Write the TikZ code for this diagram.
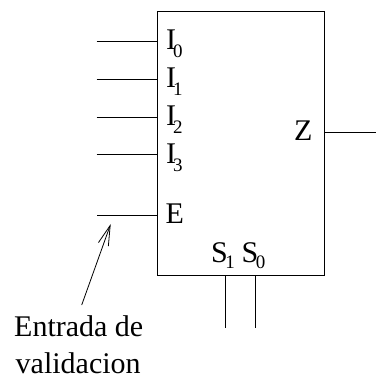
\documentclass[tikz,border=0pt]{standalone}
\usepackage{fontspec}
\setmainfont{Liberation Serif}
\usetikzlibrary{arrows.meta}
\newcommand{\subd}[2]{\raisebox{-#2}{\fontsize{19}{19}\selectfont #1}}
\begin{document}
\begin{tikzpicture}[x=1pt,y=-1pt,
 wire/.style={line width=0.8pt,black},
 lab/.style={font=\fontsize{30}{34}\selectfont,inner sep=0pt,anchor=base west,text=black}]
\useasboundingbox (0,0) rectangle (376,376);
\node[draw,line width=0.8pt,minimum width=166.7pt,minimum height=264pt,anchor=north west,inner sep=0pt] (box) at (157,11) {};
\foreach \n/\y/\d/\b in {i0/41.5/0/49,i1/79/1/87,i2/117/2/125,i3/154.7/3/163}{
  \coordinate (\n) at (96.7,\y);
  \draw[wire] (\n) -- (\n -| box.west);
  \node[lab] (l\n) at (166,\b) {I\kern-3pt\subd{\d}{8pt}};
}
\coordinate (en) at (97,215);
\draw[wire] (en) -- (en -| box.west);
\node[lab] (le) at (165.5,223) {E};
\node[lab] (lz) at (294,140) {Z};
\coordinate (zo) at (376,132);
\draw[wire] (zo -| box.east) -- (zo);
\node[lab] (ls1) at (211,262) {S\kern-2.5pt\subd{1}{6pt}};
\node[lab] (ls0) at (241.5,262) {S\kern-2.5pt\subd{0}{6pt}};
\coordinate (s1) at (225,328);
\coordinate (s0) at (255.5,328);
\draw[wire] (s1 |- box.south) -- (s1);
\draw[wire] (s0 |- box.south) -- (s0);
\coordinate (at) at (81.7,305);
\coordinate (ah) at (110.7,224);
\draw[wire,-{Straight Barb[length=20pt,width=10.5pt,line width=0.8pt]}] (at) -- (ah);
\node[lab] (t1) at (14,336) {Entrada de};
\node[lab] (t2) at (15.5,373.5) {validacion};
\end{tikzpicture}
\end{document}
